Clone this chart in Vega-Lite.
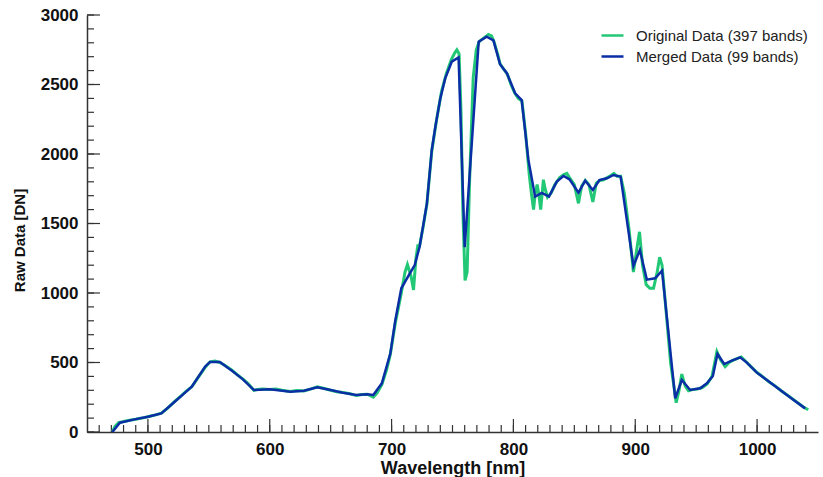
{
  "$schema": "https://vega.github.io/schema/vega-lite/v6.json",
  "autosize": "none",
  "width": 731,
  "height": 417,
  "padding": {"left": 87, "top": 15, "right": 5, "bottom": 45},
  "background": "white",
  "config": {
    "view": {"stroke": null},
    "axis": {"grid": false, "domainColor": "#333333", "domainWidth": 1.5,
             "labelFont": "Liberation Sans", "labelFontWeight": "bold", "labelFontSize": 17, "labelColor": "#111111",
             "titleFont": "Liberation Sans", "titleFontWeight": "bold", "titleColor": "#111111"}
  },
  "datasets": {
    "xticks": [
      {"wavelength": 460}, {"wavelength": 470}, {"wavelength": 480}, {"wavelength": 490}, {"wavelength": 500}, {"wavelength": 510},
      {"wavelength": 520}, {"wavelength": 530}, {"wavelength": 540}, {"wavelength": 550}, {"wavelength": 560}, {"wavelength": 570},
      {"wavelength": 580}, {"wavelength": 590}, {"wavelength": 600}, {"wavelength": 610}, {"wavelength": 620}, {"wavelength": 630},
      {"wavelength": 640}, {"wavelength": 650}, {"wavelength": 660}, {"wavelength": 670}, {"wavelength": 680}, {"wavelength": 690},
      {"wavelength": 700}, {"wavelength": 710}, {"wavelength": 720}, {"wavelength": 730}, {"wavelength": 740}, {"wavelength": 750},
      {"wavelength": 760}, {"wavelength": 770}, {"wavelength": 780}, {"wavelength": 790}, {"wavelength": 800}, {"wavelength": 810},
      {"wavelength": 820}, {"wavelength": 830}, {"wavelength": 840}, {"wavelength": 850}, {"wavelength": 860}, {"wavelength": 870},
      {"wavelength": 880}, {"wavelength": 890}, {"wavelength": 900}, {"wavelength": 910}, {"wavelength": 920}, {"wavelength": 930},
      {"wavelength": 940}, {"wavelength": 950}, {"wavelength": 960}, {"wavelength": 970}, {"wavelength": 980}, {"wavelength": 990},
      {"wavelength": 1000}, {"wavelength": 1010}, {"wavelength": 1020}, {"wavelength": 1030}, {"wavelength": 1040}
    ],
    "yticks": [
      {"dn": 0}, {"dn": 100}, {"dn": 200}, {"dn": 300}, {"dn": 400}, {"dn": 500}, {"dn": 600}, {"dn": 700}, {"dn": 800}, {"dn": 900},
      {"dn": 1000}, {"dn": 1100}, {"dn": 1200}, {"dn": 1300}, {"dn": 1400}, {"dn": 1500}, {"dn": 1600}, {"dn": 1700}, {"dn": 1800},
      {"dn": 1900}, {"dn": 2000}, {"dn": 2100}, {"dn": 2200}, {"dn": 2300}, {"dn": 2400}, {"dn": 2500}, {"dn": 2600}, {"dn": 2700},
      {"dn": 2800}, {"dn": 2900}, {"dn": 3000}
    ],
    "original": [
      {"wavelength": 471, "dn": 5}, {"wavelength": 473, "dn": 40}, {"wavelength": 476, "dn": 68}, {"wavelength": 480, "dn": 75},
      {"wavelength": 485, "dn": 85}, {"wavelength": 490, "dn": 92}, {"wavelength": 495, "dn": 100}, {"wavelength": 500, "dn": 110},
      {"wavelength": 505, "dn": 120}, {"wavelength": 511, "dn": 135}, {"wavelength": 516, "dn": 170}, {"wavelength": 522, "dn": 220},
      {"wavelength": 526, "dn": 250}, {"wavelength": 531, "dn": 290}, {"wavelength": 536, "dn": 325}, {"wavelength": 541, "dn": 390},
      {"wavelength": 547, "dn": 465}, {"wavelength": 551, "dn": 505}, {"wavelength": 555, "dn": 510}, {"wavelength": 559, "dn": 500},
      {"wavelength": 563, "dn": 480}, {"wavelength": 569, "dn": 445}, {"wavelength": 573, "dn": 415}, {"wavelength": 578, "dn": 380},
      {"wavelength": 582, "dn": 350}, {"wavelength": 587, "dn": 300}, {"wavelength": 590, "dn": 305}, {"wavelength": 594, "dn": 310},
      {"wavelength": 600, "dn": 305}, {"wavelength": 605, "dn": 310}, {"wavelength": 610, "dn": 300}, {"wavelength": 617, "dn": 292},
      {"wavelength": 622, "dn": 298}, {"wavelength": 628, "dn": 295}, {"wavelength": 634, "dn": 310}, {"wavelength": 639, "dn": 325},
      {"wavelength": 644, "dn": 315}, {"wavelength": 650, "dn": 300}, {"wavelength": 655, "dn": 290}, {"wavelength": 660, "dn": 285},
      {"wavelength": 666, "dn": 275}, {"wavelength": 671, "dn": 262}, {"wavelength": 676, "dn": 270}, {"wavelength": 680, "dn": 272},
      {"wavelength": 685, "dn": 250}, {"wavelength": 688, "dn": 280}, {"wavelength": 692, "dn": 340}, {"wavelength": 696, "dn": 450},
      {"wavelength": 699, "dn": 560}, {"wavelength": 703, "dn": 780}, {"wavelength": 708, "dn": 1000}, {"wavelength": 711, "dn": 1150},
      {"wavelength": 713, "dn": 1205}, {"wavelength": 716, "dn": 1120}, {"wavelength": 718, "dn": 1022}, {"wavelength": 720, "dn": 1250},
      {"wavelength": 721.5, "dn": 1340}, {"wavelength": 723, "dn": 1340}, {"wavelength": 726, "dn": 1480}, {"wavelength": 729, "dn": 1640},
      {"wavelength": 733, "dn": 2020}, {"wavelength": 737, "dn": 2250}, {"wavelength": 741, "dn": 2450}, {"wavelength": 745, "dn": 2580},
      {"wavelength": 749, "dn": 2680}, {"wavelength": 752, "dn": 2730}, {"wavelength": 753.6, "dn": 2750}, {"wavelength": 755.4, "dn": 2720},
      {"wavelength": 757, "dn": 2300}, {"wavelength": 758.5, "dn": 1600}, {"wavelength": 760.3, "dn": 1090}, {"wavelength": 762, "dn": 1150},
      {"wavelength": 764, "dn": 1800}, {"wavelength": 767, "dn": 2550}, {"wavelength": 769.5, "dn": 2750}, {"wavelength": 772, "dn": 2810},
      {"wavelength": 775, "dn": 2830}, {"wavelength": 779.5, "dn": 2860}, {"wavelength": 782, "dn": 2850}, {"wavelength": 784, "dn": 2810},
      {"wavelength": 787, "dn": 2720}, {"wavelength": 789, "dn": 2650}, {"wavelength": 792, "dn": 2610}, {"wavelength": 795, "dn": 2575},
      {"wavelength": 798, "dn": 2500}, {"wavelength": 801, "dn": 2440}, {"wavelength": 804, "dn": 2400}, {"wavelength": 807, "dn": 2380},
      {"wavelength": 810, "dn": 2150}, {"wavelength": 813, "dn": 1850}, {"wavelength": 815, "dn": 1700}, {"wavelength": 816.5, "dn": 1600},
      {"wavelength": 818, "dn": 1720}, {"wavelength": 819.5, "dn": 1780}, {"wavelength": 821, "dn": 1700}, {"wavelength": 822.4, "dn": 1600},
      {"wavelength": 824.6, "dn": 1815}, {"wavelength": 826, "dn": 1750}, {"wavelength": 828, "dn": 1690}, {"wavelength": 831, "dn": 1720},
      {"wavelength": 834, "dn": 1780}, {"wavelength": 838, "dn": 1830}, {"wavelength": 841, "dn": 1850}, {"wavelength": 843.8, "dn": 1860},
      {"wavelength": 846, "dn": 1830}, {"wavelength": 850, "dn": 1780}, {"wavelength": 853.4, "dn": 1645}, {"wavelength": 856, "dn": 1770},
      {"wavelength": 859, "dn": 1810}, {"wavelength": 862, "dn": 1780}, {"wavelength": 865.2, "dn": 1655}, {"wavelength": 868, "dn": 1790},
      {"wavelength": 871, "dn": 1810}, {"wavelength": 874, "dn": 1815}, {"wavelength": 877, "dn": 1830}, {"wavelength": 880, "dn": 1845},
      {"wavelength": 882.5, "dn": 1860}, {"wavelength": 885, "dn": 1840}, {"wavelength": 888, "dn": 1840}, {"wavelength": 891, "dn": 1720},
      {"wavelength": 895, "dn": 1450}, {"wavelength": 898.5, "dn": 1150}, {"wavelength": 901, "dn": 1300}, {"wavelength": 903.5, "dn": 1440},
      {"wavelength": 906, "dn": 1200}, {"wavelength": 909, "dn": 1060}, {"wavelength": 912, "dn": 1034}, {"wavelength": 915, "dn": 1034},
      {"wavelength": 918, "dn": 1150}, {"wavelength": 920, "dn": 1257}, {"wavelength": 922, "dn": 1200}, {"wavelength": 925, "dn": 900},
      {"wavelength": 929, "dn": 500}, {"wavelength": 933.6, "dn": 211}, {"wavelength": 936, "dn": 300}, {"wavelength": 938.2, "dn": 417},
      {"wavelength": 941, "dn": 330}, {"wavelength": 943.7, "dn": 297}, {"wavelength": 947, "dn": 305}, {"wavelength": 951, "dn": 310},
      {"wavelength": 955, "dn": 320}, {"wavelength": 959, "dn": 345}, {"wavelength": 963, "dn": 400}, {"wavelength": 967, "dn": 578},
      {"wavelength": 970, "dn": 520}, {"wavelength": 973.8, "dn": 470}, {"wavelength": 977, "dn": 500}, {"wavelength": 980, "dn": 515},
      {"wavelength": 984, "dn": 530}, {"wavelength": 987, "dn": 540}, {"wavelength": 991, "dn": 505}, {"wavelength": 995, "dn": 470},
      {"wavelength": 1000, "dn": 428}, {"wavelength": 1005, "dn": 395}, {"wavelength": 1010, "dn": 360}, {"wavelength": 1015, "dn": 330},
      {"wavelength": 1020, "dn": 295}, {"wavelength": 1025, "dn": 265}, {"wavelength": 1030, "dn": 232}, {"wavelength": 1035, "dn": 200},
      {"wavelength": 1038, "dn": 180}, {"wavelength": 1042, "dn": 160}
    ],
    "merged": [
      {"wavelength": 470.8, "dn": 0}, {"wavelength": 477, "dn": 67}, {"wavelength": 489, "dn": 91}, {"wavelength": 500, "dn": 110},
      {"wavelength": 511, "dn": 134}, {"wavelength": 522, "dn": 218}, {"wavelength": 530.5, "dn": 283}, {"wavelength": 536, "dn": 326},
      {"wavelength": 547, "dn": 470}, {"wavelength": 551, "dn": 504}, {"wavelength": 559, "dn": 504}, {"wavelength": 569, "dn": 441},
      {"wavelength": 578, "dn": 379}, {"wavelength": 587, "dn": 302}, {"wavelength": 600, "dn": 307}, {"wavelength": 617, "dn": 290},
      {"wavelength": 628, "dn": 297}, {"wavelength": 639, "dn": 321}, {"wavelength": 650, "dn": 302}, {"wavelength": 660, "dn": 283},
      {"wavelength": 671, "dn": 266}, {"wavelength": 680, "dn": 271}, {"wavelength": 685, "dn": 266}, {"wavelength": 692, "dn": 350},
      {"wavelength": 699, "dn": 566}, {"wavelength": 703, "dn": 800}, {"wavelength": 708, "dn": 1034}, {"wavelength": 715, "dn": 1142},
      {"wavelength": 719, "dn": 1201}, {"wavelength": 723, "dn": 1333}, {"wavelength": 729, "dn": 1645}, {"wavelength": 733, "dn": 2029},
      {"wavelength": 736, "dn": 2200}, {"wavelength": 740, "dn": 2400}, {"wavelength": 744, "dn": 2544}, {"wavelength": 749.4, "dn": 2664},
      {"wavelength": 755, "dn": 2695}, {"wavelength": 760, "dn": 1330}, {"wavelength": 766, "dn": 2100}, {"wavelength": 771.5, "dn": 2808},
      {"wavelength": 778, "dn": 2844}, {"wavelength": 783.6, "dn": 2818}, {"wavelength": 789, "dn": 2646}, {"wavelength": 794.6, "dn": 2581},
      {"wavelength": 801.4, "dn": 2437}, {"wavelength": 806.8, "dn": 2388}, {"wavelength": 812.3, "dn": 1957}, {"wavelength": 817.8, "dn": 1693},
      {"wavelength": 823.3, "dn": 1720}, {"wavelength": 829.2, "dn": 1693}, {"wavelength": 835.6, "dn": 1801}, {"wavelength": 841.1, "dn": 1842},
      {"wavelength": 846, "dn": 1818}, {"wavelength": 853.4, "dn": 1722}, {"wavelength": 858.9, "dn": 1808}, {"wavelength": 865.2, "dn": 1741},
      {"wavelength": 870.6, "dn": 1813}, {"wavelength": 876.7, "dn": 1825}, {"wavelength": 882.1, "dn": 1849}, {"wavelength": 888, "dn": 1837},
      {"wavelength": 898.5, "dn": 1195}, {"wavelength": 903.8, "dn": 1309}, {"wavelength": 909.5, "dn": 1096}, {"wavelength": 916.3, "dn": 1106},
      {"wavelength": 922, "dn": 1161}, {"wavelength": 932.8, "dn": 242}, {"wavelength": 938.2, "dn": 374}, {"wavelength": 945.1, "dn": 302},
      {"wavelength": 953.3, "dn": 314}, {"wavelength": 958.8, "dn": 350}, {"wavelength": 963.7, "dn": 403}, {"wavelength": 967.5, "dn": 561},
      {"wavelength": 973, "dn": 489}, {"wavelength": 979.3, "dn": 513}, {"wavelength": 986.1, "dn": 537}, {"wavelength": 991.6, "dn": 499},
      {"wavelength": 999.8, "dn": 427}, {"wavelength": 1008, "dn": 374}, {"wavelength": 1019, "dn": 302}, {"wavelength": 1030, "dn": 230},
      {"wavelength": 1039.5, "dn": 170}
    ]
  },
  "layer": [
    {
      "description": "Inward minor ticks along the wavelength axis, every 10 nm.",
      "data": {"name": "xticks"},
      "mark": {"type": "rule", "color": "#333333", "strokeWidth": 1.2},
      "encoding": {
        "x": {"field": "wavelength", "type": "quantitative", "scale": {"domain": [450, 1050], "nice": false, "zero": false}, "axis": null},
        "y": {"datum": 0, "type": "quantitative", "scale": {"domain": [0, 3000], "nice": false}, "axis": null},
        "y2": {"datum": 50}
      }
    },
    {
      "description": "Inward major ticks along the wavelength axis, every 100 nm.",
      "data": {"name": "xticks"},
      "transform": [{"filter": "datum.wavelength % 100 === 0"}],
      "mark": {"type": "rule", "color": "#333333", "strokeWidth": 1.2},
      "encoding": {
        "x": {"field": "wavelength", "type": "quantitative", "axis": null},
        "y": {"datum": 0, "type": "quantitative", "axis": null},
        "y2": {"datum": 94}
      }
    },
    {
      "description": "Inward minor ticks along the DN axis, every 100.",
      "data": {"name": "yticks"},
      "mark": {"type": "rule", "color": "#333333", "strokeWidth": 1.2},
      "encoding": {
        "y": {"field": "dn", "type": "quantitative", "axis": null},
        "x": {"datum": 450, "type": "quantitative", "axis": null},
        "x2": {"datum": 455.75}
      }
    },
    {
      "description": "Inward major ticks along the DN axis, every 500.",
      "data": {"name": "yticks"},
      "transform": [{"filter": "datum.dn % 500 === 0"}],
      "mark": {"type": "rule", "color": "#333333", "strokeWidth": 1.2},
      "encoding": {
        "y": {"field": "dn", "type": "quantitative", "axis": null},
        "x": {"datum": 450, "type": "quantitative", "axis": null},
        "x2": {"datum": 460.7}
      }
    },
    {
      "data": {"name": "original"},
      "mark": {"type": "line", "strokeWidth": 3, "clip": true},
      "encoding": {
        "x": {"field": "wavelength", "type": "quantitative",
              "axis": {"orient": "bottom", "values": [500, 600, 700, 800, 900, 1000], "format": "d", "ticks": false,
                       "labelPadding": 9, "title": "Wavelength [nm]", "titleFontSize": 18, "titlePadding": 2}},
        "y": {"field": "dn", "type": "quantitative",
              "axis": {"orient": "left", "values": [0, 500, 1000, 1500, 2000, 2500, 3000], "format": "d", "ticks": false,
                       "labelPadding": 9, "title": "Raw Data [DN]", "titleFontSize": 15, "titlePadding": 13, "titleY": 225}},
        "color": {"datum": "Original Data (397 bands)", "type": "nominal",
                  "scale": {"domain": ["Original Data (397 bands)", "Merged Data (99 bands)"], "range": ["#22c876", "#0b2ea6"]},
                  "legend": {"orient": "none", "legendX": 513, "legendY": 8, "title": null, "symbolType": "stroke",
                             "symbolSize": 484, "symbolStrokeWidth": 2.5, "labelFont": "Liberation Sans", "labelFontSize": 15,
                             "labelColor": "#222222", "labelOffset": 11, "labelLimit": 0, "rowPadding": 0}}
      }
    },
    {
      "data": {"name": "merged"},
      "mark": {"type": "line", "strokeWidth": 2.5, "clip": true},
      "encoding": {
        "x": {"field": "wavelength", "type": "quantitative", "axis": null},
        "y": {"field": "dn", "type": "quantitative", "axis": null},
        "color": {"datum": "Merged Data (99 bands)", "type": "nominal"}
      }
    }
  ],
  "resolve": {"axis": {"x": "independent", "y": "independent"}}
}
